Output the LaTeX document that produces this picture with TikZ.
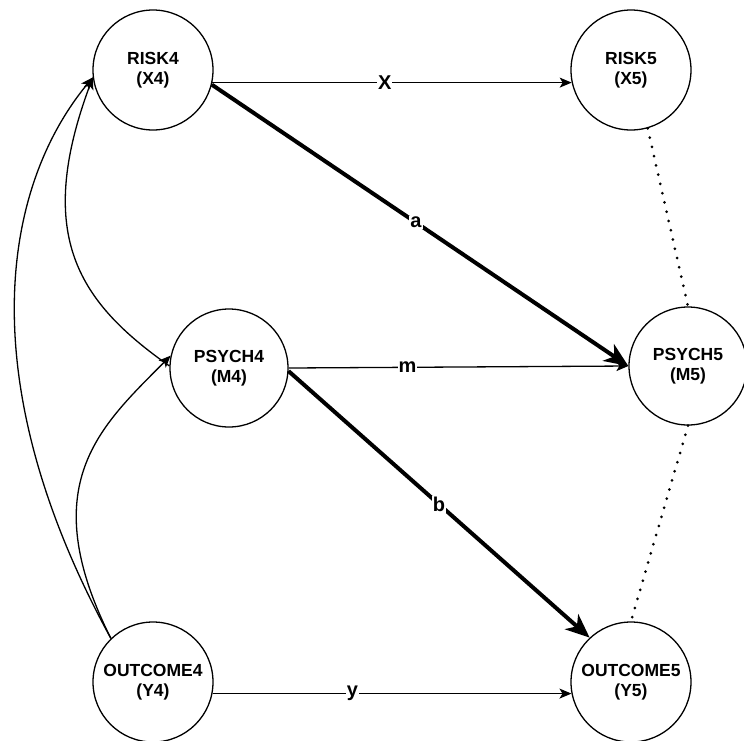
\documentclass[tikz,border=0pt]{standalone}
\usepackage{fontspec}
\setmainfont{Liberation Sans}
\usetikzlibrary{arrows.meta}
\begin{document}
\begin{tikzpicture}[x=1pt,y=-1pt,
  var/.style={circle,draw,line width=1.3pt,minimum size=120pt,inner sep=0pt,align=center,
    font=\fontsize{17.5}{20.5}\selectfont\bfseries},
  thinarrow/.style={line width=1.3pt,-{Stealth[length=12pt,width=10pt,inset=3pt]}},
  thickarrow/.style={line width=4pt,-{Stealth[length=24pt,width=20pt,inset=7pt]}},
  dotline/.style={line width=3pt,dash pattern=on 0pt off 9.5pt,line cap=round},
  lbl/.style={fill=white,inner sep=1pt,font=\fontsize{20}{20}\selectfont\bfseries}]
\useasboundingbox (0,0) rectangle (744,740);

\node[var] (r4) at (153,70) {RISK4\\(X4)};
\node[var] (r5) at (631,70) {RISK5\\(X5)};
\node[var,minimum size=118pt] (p4) at (229,368) {PSYCH4\\(M4)};
\node[var,minimum size=118pt] (p5) at (688,366) {PSYCH5\\(M5)};
\node[var] (o4) at (153,682) {OUTCOME4\\(Y4)};
\node[var] (o5) at (631,682) {OUTCOME5\\(Y5)};

% horizontal thin arrows
\draw[thinarrow] (r4.-12.5) -- (r5.192.5) node[lbl,pos=0.48] {X};
\draw[thinarrow] (p4.east) -- (p5.west) node[lbl,pos=0.35] {m};
\draw[thinarrow] (o4.-11.5) -- (o5.191.5) node[lbl,pos=0.39] {y};

% thick arrows
\draw[thickarrow] (r4.-14) -- (p5.west) node[lbl,pos=0.49] {a};
\draw[thickarrow] (p4.-3) -- (o5.133) node[lbl,pos=0.50] {b};

% dotted connections
\draw[dotline] (r5.-74) -- (p5.north);
\draw[dotline] (p5.south) -- (o5.north);

% curved arrows on the left
\draw[thinarrow] (o4.134) .. controls (-28,385) and (0,190) .. (r4.187);
\draw[thinarrow] (o4.134) .. controls (33.5,484) and (101,426) .. (p4.168);
\draw[thinarrow] (p4.178) .. controls (80,303) and (33.5,237) .. (r4.187);
\end{tikzpicture}
\end{document}
